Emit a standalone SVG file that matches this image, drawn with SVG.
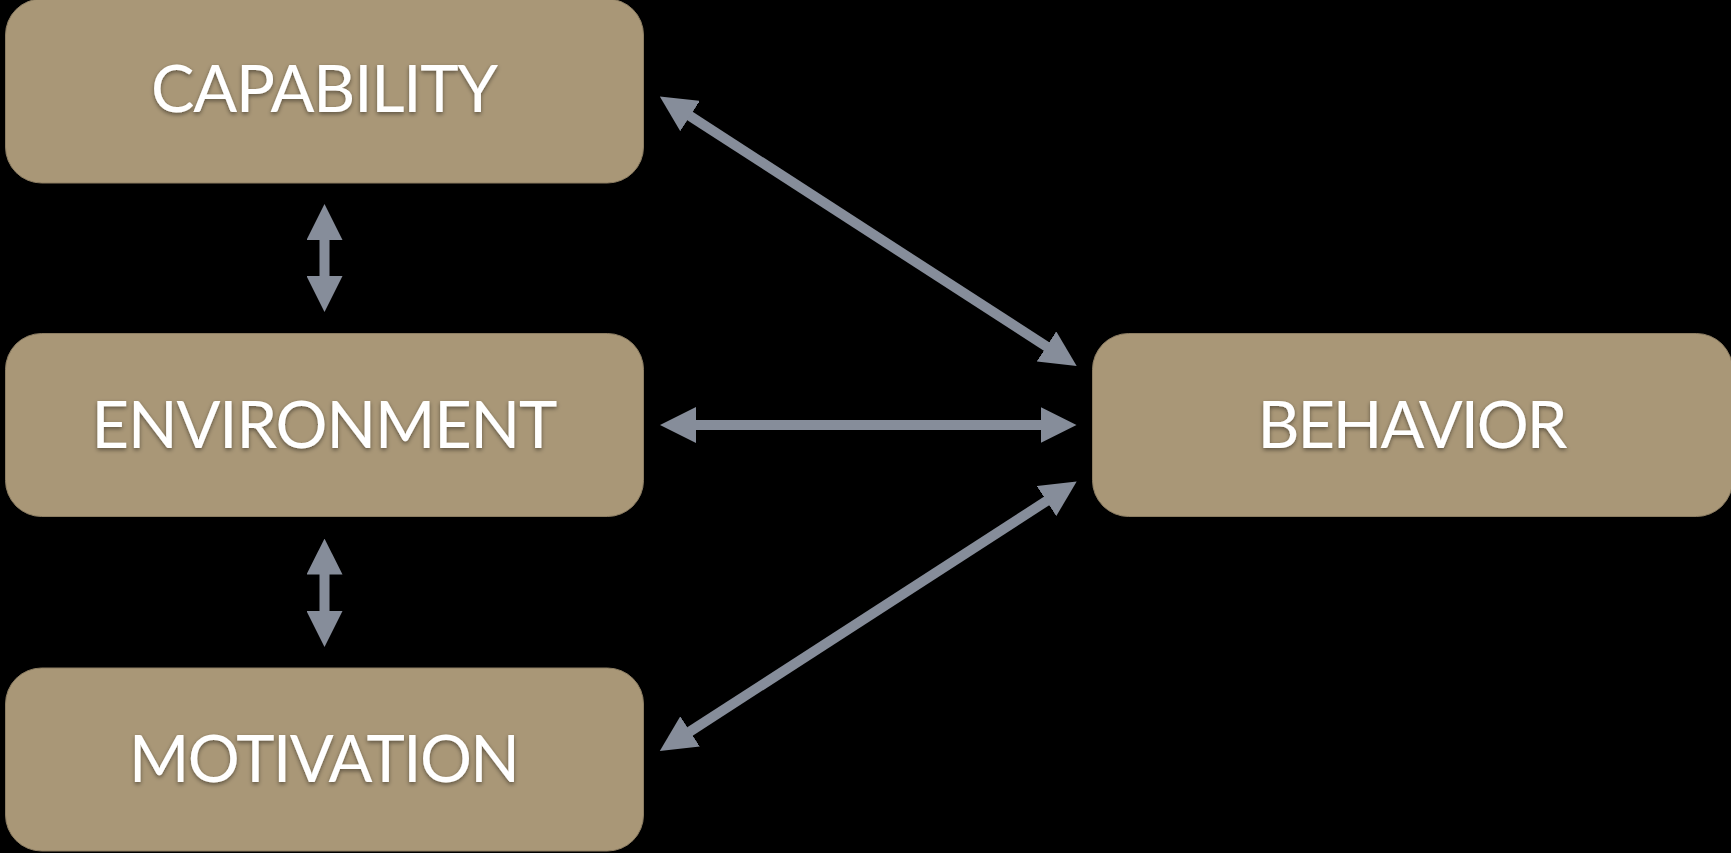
<svg xmlns="http://www.w3.org/2000/svg" width="1731" height="853" viewBox="0 0 1731 853">
<defs>
<style>
.box{fill:#a99777;stroke:#8c7d62;stroke-width:1}
.lbl{fill:#ffffff;font-family:Lato,"Noto Sans",sans-serif;font-weight:400;font-size:65px;text-anchor:middle;filter:url(#ts)}
.con{stroke:#868d9a;stroke-width:10;fill:none;marker-start:url(#ah);marker-end:url(#ah)}
</style>
<filter id="ts" x="-10%" y="-30%" width="120%" height="160%">
<feDropShadow dx="0" dy="2" stdDeviation="2" flood-color="#000" flood-opacity="0.45"/>
</filter>
<marker id="ah" markerUnits="userSpaceOnUse" markerWidth="36" markerHeight="36" refX="1" refY="18" orient="auto-start-reverse" viewBox="0 0 36 36">
<path d="M0,0 L36,18 L0,36 Z" fill="#868d9a"/>
</marker>
</defs>
<rect x="0" y="0" width="1731" height="853" fill="#000"/>
<g id="connectors">
<line class="con" x1="324.5" y1="239" x2="324.5" y2="277"/>
<line class="con" x1="324.5" y1="573.6" x2="324.5" y2="612"/>
<line class="con" x1="695" y1="425" x2="1041.5" y2="425"/>
<line class="con" x1="689.2" y1="115.5" x2="1047.3" y2="347"/>
<line class="con" x1="689.2" y1="732" x2="1047.3" y2="500.5"/>
</g>
<g id="capability"><rect class="box" x="5.5" y="-1" width="638" height="184" rx="36"/><text class="lbl" x="324.5" y="111.5" textLength="347">CAPABILITY</text></g>
<g id="environment"><rect class="box" x="5.5" y="333.5" width="638" height="183" rx="36"/><text class="lbl" x="324.5" y="447.5" textLength="466">ENVIRONMENT</text></g>
<g id="motivation"><rect class="box" x="5.5" y="668" width="638" height="183" rx="36"/><text class="lbl" x="324.5" y="782" textLength="391">MOTIVATION</text></g>
<g id="behavior"><rect class="box" x="1092.5" y="333.5" width="640" height="183" rx="36"/><text class="lbl" x="1412.5" y="447.5" textLength="310">BEHAVIOR</text></g>
</svg>
